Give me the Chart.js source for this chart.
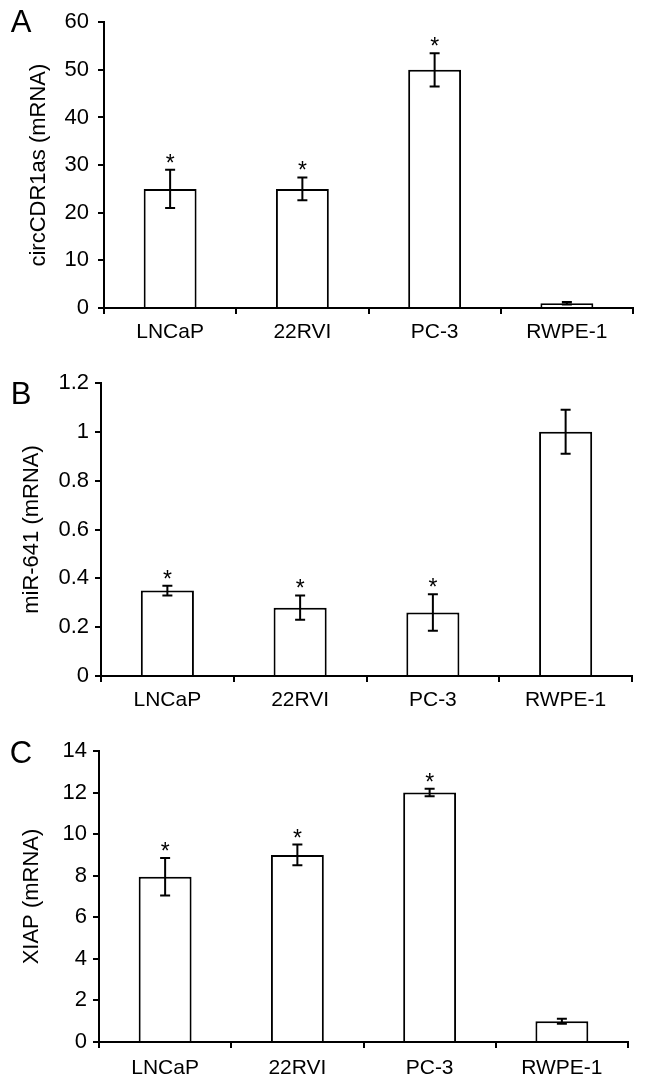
<!DOCTYPE html>
<html lang="en">
<head>
  <meta charset="UTF-8">
  <title>circCDR1as / miR-641 / XIAP</title>
  <script src="https://cdn.jsdelivr.net/npm/chart.js"></script>
  <style>
    body {
      margin: 0;
      background: #fff;
      width: 646px;
      height: 1087px;
      position: relative;
      overflow: hidden;
    }

    canvas {
      position: absolute;
      left: 0;
    }

    #chartA { top: 0; }
    #chartB { top: 345px; }
    #chartC { top: 710px; }
  </style>
</head>
<body>

  <canvas id="chartA" width="646" height="345"></canvas>
  <canvas id="chartB" width="646" height="365"></canvas>
  <canvas id="chartC" width="646" height="377"></canvas>

  <script>
    const cellLines = ['LNCaP', '22RVI', 'PC-3', 'RWPE-1'];

    // A - circCDR1as
    const circValues = [25, 25, 50, 1];
    const circErrors = [4, 2.4, 3.5, 0.25];
    const circStars = [true, true, true, false];

    // B - miR-641
    const mirValues = [0.35, 0.28, 0.26, 1.0];
    const mirErrors = [0.02, 0.05, 0.075, 0.09];
    const mirStars = [true, true, true, false];

    // C - XIAP
    const xiapValues = [7.95, 9.0, 12.0, 1.0];
    const xiapErrors = [0.9, 0.5, 0.18, 0.12];
    const xiapStars = [true, true, true, false];

    Chart.defaults.font.family = "'Liberation Sans', Arial, sans-serif";
    Chart.defaults.color = '#000';

    // error bars, asterisks and the panel letter
    const extrasPlugin = {
      id: 'extras',
      afterDatasetsDraw(chart, args, opts) {
        const ctx = chart.ctx;
        const meta = chart.getDatasetMeta(0);
        const yScale = chart.scales.y;
        ctx.save();
        ctx.strokeStyle = '#000';
        ctx.fillStyle = '#000';
        ctx.lineWidth = 2;
        meta.data.forEach((bar, i) => {
          const v = opts.values[i];
          const e = opts.errors[i];
          const yTop = yScale.getPixelForValue(v + e);
          const yBot = yScale.getPixelForValue(v - e);
          ctx.beginPath();
          ctx.moveTo(bar.x, yTop);
          ctx.lineTo(bar.x, yBot);
          ctx.moveTo(bar.x - 5, yTop);
          ctx.lineTo(bar.x + 5, yTop);
          ctx.moveTo(bar.x - 5, yBot);
          ctx.lineTo(bar.x + 5, yBot);
          ctx.stroke();
          if (opts.stars[i]) {
            ctx.font = "23px 'Liberation Sans', Arial, sans-serif";
            ctx.textAlign = 'center';
            ctx.textBaseline = 'alphabetic';
            ctx.fillText('*', bar.x, yTop + 1);
          }
        });
        ctx.font = "31px 'Liberation Sans', Arial, sans-serif";
        ctx.textAlign = 'center';
        ctx.textBaseline = 'middle';
        ctx.fillText(opts.letter, opts.letterX, opts.letterY);
        ctx.restore();
      }
    };

    function makePanel(id, values, errors, stars, p) {
      return new Chart(document.getElementById(id), {
        type: 'bar',
        data: {
          labels: cellLines,
          datasets: [{
            data: values,
            backgroundColor: '#fff',
            borderColor: '#000',
            borderWidth: 2,
            categoryPercentage: 1,
            barPercentage: 0.4
          }]
        },
        options: {
          responsive: false,
          animation: false,
          layout: { padding: { left: 0, top: p.top, right: p.right, bottom: 0 } },
          plugins: {
            legend: { display: false },
            tooltip: { enabled: false },
            extras: {
              values: values, errors: errors, stars: stars,
              letter: p.letter, letterX: 21, letterY: p.letterY
            }
          },
          scales: {
            x: {
              grid: { drawOnChartArea: false, color: '#000', tickLength: 6, lineWidth: 2 },
              border: { color: '#000', width: 2 },
              ticks: { font: { size: 21 }, padding: p.xPad, maxRotation: 0 },
              afterFit: s => { s.height = p.xHeight; }
            },
            y: {
              min: 0,
              max: p.max,
              grid: { drawOnChartArea: false, color: '#000', tickLength: 6, lineWidth: 2 },
              border: { color: '#000', width: 2 },
              ticks: {
                stepSize: p.step,
                font: { size: 22 },
                padding: p.yPad,
                callback: v => String(Math.round(v * 10) / 10)
              },
              title: {
                display: true,
                text: p.title,
                font: { size: 22 },
                padding: { top: p.titlePad, bottom: 0 }
              },
              afterFit: s => { s.width = p.left; }
            }
          }
        },
        plugins: [extrasPlugin]
      });
    }

    makePanel('chartA', circValues, circErrors, circStars, {
      letter: 'A', letterY: 23, top: 16, right: 13, left: 104, xHeight: 37,
      max: 60, step: 10, title: 'circCDR1as (mRNA)', titlePad: 26, xPad: 6, yPad: 9
    });

    makePanel('chartB', mirValues, mirErrors, mirStars, {
      letter: 'B', letterY: 50, top: 38, right: 14, left: 101, xHeight: 34,
      max: 1.2, step: 0.2, title: 'miR-641 (mRNA)', titlePad: 19, xPad: 6, yPad: 6
    });

    makePanel('chartC', xiapValues, xiapErrors, xiapStars, {
      letter: 'C', letterY: 44, top: 41, right: 18, left: 99, xHeight: 45,
      max: 14, step: 2, title: 'XIAP (mRNA)', titlePad: 19, xPad: 8, yPad: 6
    });
  </script>

</body>
</html>
